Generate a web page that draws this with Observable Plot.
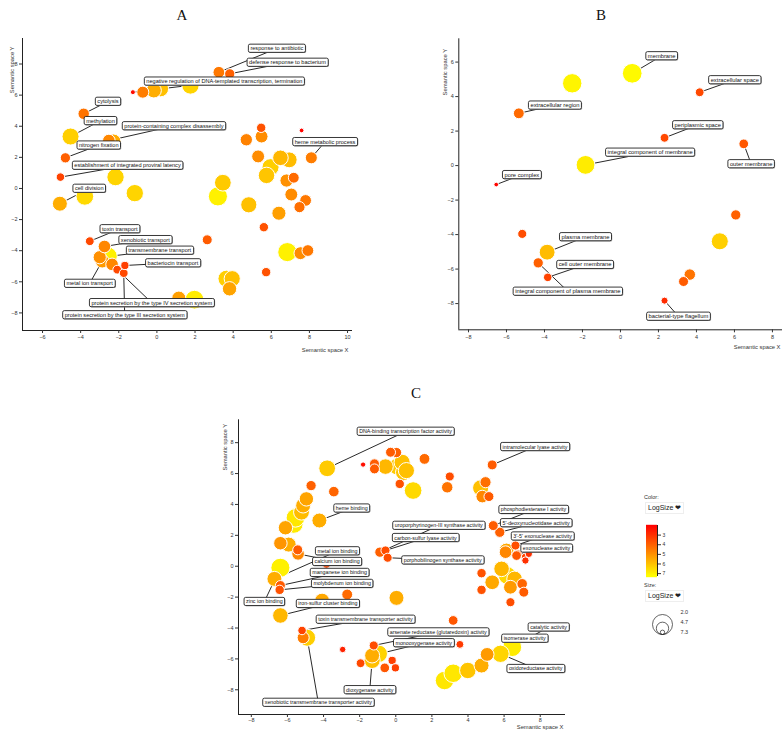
<!DOCTYPE html>
<html><head><meta charset="utf-8">
<script src="https://cdn.jsdelivr.net/npm/d3@7"></script>
<script src="https://cdn.jsdelivr.net/npm/@observablehq/plot@0.6"></script>
<style>
body{margin:0;background:#fff;}
#root{position:relative;width:784px;height:733px;overflow:hidden;font-family:"Liberation Sans",Arial,sans-serif;}
.title{position:absolute;font-family:"Liberation Serif","Times New Roman",serif;font-size:15px;color:#111;transform:translate(-50%,-50%);}
.lgtxt{position:absolute;font-size:5.5px;color:#333;}
.lgsel{position:absolute;font-size:7px;color:#222;background:#fff;border:1px solid #eee;padding:1px 2px;line-height:8px;}
</style></head><body><div id="root"></div>
<script>
// ---------- Panel A (biological process) ----------
const aLabelText = ["response to antibiotic","defense response to bacterium","negative regulation of DNA-templated transcription, termination","cytolysis","methylation","protein-containing complex disassembly","nitrogen fixation","establishment of integrated proviral latency","heme metabolic process","cell division","toxin transport","xenobiotic transport","transmembrane transport","bacteriocin transport","metal ion transport","protein secretion by the type IV secretion system","protein secretion by the type III secretion system"];
const aLabelX = [6.29,6.85,3.54,-2.57,-2.96,0.89,-3.05,-1.54,8.82,-3.55,-1.95,-0.61,0.15,0.84,-3.53,-0.27,-1.69];
const aLabelY = [9.00,8.10,6.89,5.59,4.35,4.02,2.78,1.48,3.00,0.00,-2.60,-3.30,-3.98,-4.79,-6.11,-7.35,-8.13];
const aPointX = [3.25,3.82,-1.26,-3.84,-4.53,-2.52,-4.80,-5.06,8.10,-5.09,-3.52,-2.75,-2.58,-1.68,-2.87,-2.08,-1.74,
  -0.74,-0.16,0.19,1.76,-2.28,-2.17,-3.78,-1.16,-3.00,-2.35,1.15,1.97,7.59,5.47,5.49,4.69,5.31,6.48,6.94,5.96,5.75,6.80,7.18,3.46,3.20,4.82,7.05,7.80,7.48,6.40,5.61,2.64,6.84,7.53,7.92,5.73,3.65,3.95,3.81];
const aPointY = [7.47,7.37,6.19,4.80,3.34,3.08,1.97,0.73,1.97,-0.98,-3.39,-3.73,-4.37,-4.95,-4.67,-5.22,-5.44,
  6.19,6.30,6.41,6.62,3.02,0.73,-0.51,-0.30,-4.42,-4.88,-7.05,-7.15,3.73,3.90,3.34,3.13,2.06,1.97,1.84,1.37,0.84,0.51,0.69,0.37,-0.51,-1.05,-0.39,-0.77,-1.20,-1.59,-2.49,-3.30,-4.09,-4.16,-3.99,-5.38,-5.80,-5.80,-6.45];
const aPointSize = [4.5,4.0,2.2,4.4,6.3,4.8,4.0,3.4,4.6,5.6,3.5,4.8,7.0,3.3,5.2,3.5,3.5,
  4.6,5.6,6.0,6.4,5.6,6.4,6.5,6.4,5.0,4.8,5.3,6.9,2.1,3.7,4.9,4.7,4.9,5.8,5.9,6.3,6.1,5.0,4.2,6.2,7.0,6.0,4.9,4.5,4.3,5.3,3.7,3.9,7.0,4.9,4.5,3.7,6.3,6.0,5.4];
const aXTicks = [-6,-4,-2,0,2,4,6,8,10];
const aYTicks = [-8,-6,-4,-2,0,2,4,6,8];
const aXDomain = [-7.05,10.26];
const aYDomain = [-9.13,9.64];

// ---------- Panel B (cellular component) ----------
const bLabelText = ["membrane","extracellular space","extracellular region","periplasmic space","integral component of membrane","outer membrane","pore complex","plasma membrane","cell outer membrane","integral component of plasma membrane","bacterial-type flagellum"];
const bLabelX = [2.17,6.02,-3.45,4.07,1.56,6.88,-5.19,-1.84,-1.86,-2.77,3.05];
const bLabelY = [6.36,4.97,3.50,2.36,0.77,0.10,-0.53,-4.13,-5.74,-7.29,-8.74];
const bPointX = [0.62,4.17,-5.35,2.32,-1.84,6.49,-6.54,-3.86,-3.83,-4.33,2.32, -2.54,-5.17,3.32,3.65,5.23,6.07];
const bPointY = [5.35,4.25,3.03,1.61,0.04,1.26,-1.10,-5.02,-6.48,-5.64,-7.83, 4.77,-3.96,-6.72,-6.32,-4.39,-2.86];
const bPointSize = [7.2,3.5,4.2,3.5,6.9,3.8,2.1,5.9,3.4,4.0,2.9, 7.1,3.6,3.9,4.4,6.3,4.0];
const bXTicks = [-8,-6,-4,-2,0,2,4,6,8];
const bYTicks = [-8,-6,-4,-2,0,2,4,6];
const bXDomain = [-8.51,8.53];
const bYDomain = [-9.52,7.35];

// ---------- Panel C (molecular function) ----------
const cLabelText = ["DNA-binding transcription factor activity","intramolecular lyase activity","heme binding","uroporphyrinogen-III synthase activity","carbon-sulfur lyase activity","porphobilinogen synthase activity","phosphodiesterase I activity","5'-deoxynucleotidase activity","3'-5' exonuclease activity","exonuclease activity","metal ion binding","calcium ion binding","manganese ion binding","molybdenum ion binding","zinc ion binding","iron-sulfur cluster binding","toxin transmembrane transporter activity","xenobiotic transmembrane transporter activity","arsenate reductase (glutaredoxin) activity","monooxygenase activity","dioxygenase activity","catalytic activity","isomerase activity","oxidoreductase activity"];
const cLabelX = [0.54,7.71,-2.44,2.38,1.65,2.60,7.63,7.77,8.13,8.35,-3.23,-3.25,-3.11,-2.97,-7.28,-3.76,-1.68,-4.29,2.35,1.55,-1.44,8.46,7.14,7.75];
const cLabelY = [8.72,7.73,3.75,2.63,1.84,0.39,3.66,2.80,1.94,1.16,0.98,0.29,-0.42,-1.13,-2.30,-2.43,-3.45,-8.83,-4.27,-4.97,-8.01,-3.95,-4.68,-6.64];
const cPointX = [-3.80,5.34,-4.23,-0.88,-0.57,-0.45,5.40,5.76,6.63,6.73,-6.72,-5.41,-6.39,-6.43,-6.39,-6.39,-5.19,-4.91,-1.22,-1.31,-1.31,6.45,5.06,5.80,
  -4.69,-3.43,-4.95,-5.13,-5.22,-5.56,-5.65,-6.11,-6.39,-5.93,-5.43,-1.81,-1.18,-1.18,-0.29,0.04,-0.57,0.08,0.35,0.44,0.22,0.96,0.59,1.59,2.99,2.85,4.70,4.97,4.79,5.16,6.13,7.19,7.37,-3.84,-4.08,-2.69,0.04,-5.13,-2.94,-1.95,-0.94,-0.61,-0.20,-0.02,3.18,3.55,2.70,3.18,3.99,4.75,4.75,4.75,5.34,5.86,6.35,6.58,7.00,7.09,6.35,6.17,6.08,6.69,7.18];
const cPointY = [6.34,6.56,2.96,0.91,1.02,0.55,2.63,2.20,1.34,0.76,-0.82,0.80,-1.25,-1.53,-0.10,-3.19,-4.16,-4.63,-5.13,-5.78,-6.10,-5.24,-5.71,-5.67,
  5.22,4.83,4.36,3.93,3.50,3.13,2.74,2.49,1.49,1.40,1.06,6.58,6.63,6.30,7.38,7.36,6.45,6.45,6.73,6.08,5.33,4.90,6.19,6.95,5.81,5.11,5.07,5.44,4.51,4.51,1.02,0.58,0.80,0.15,-2.22,-1.83,-2.05,-4.63,-5.39,-6.28,-5.67,-6.58,-6.10,-6.58,-3.51,-5.06,-7.40,-6.93,-6.75,-6.43,-0.45,-1.53,-1.04,-0.17,-1.36,-0.82,-1.14,-1.68,-2.33,-0.60,0.91,0.69,0.37];
const cPointSize = [6.2,3.9,5.6,4.0,3.6,3.6,3.9,4.0,3.6,3.8,5.6,4.8,3.9,3.7,7.0,5.8,3.4,6.3,3.6,5.6,6.0,6.9,5.2,6.4,
  4.0,4.1,5.4,5.6,5.9,6.8,6.9,5.4,5.1,5.6,3.9,2.3,3.9,3.9,3.9,4.0,5.8,6.2,6.0,6.1,3.7,6.5,6.0,4.2,3.6,4.4,6.0,4.3,4.8,3.9,5.5,3.4,3.0,3.5,5.5,4.2,5.6,4.6,2.7,3.5,6.4,3.8,3.3,3.3,3.8,3.2,6.8,6.8,6.1,5.6,3.7,3.7,5.5,5.8,5.2,5.8,4.1,3.9,3.6,6.5,4.8,3.8,3.0];
const cXTicks = [-8,-6,-4,-2,0,2,4,6,8];
const cYTicks = [-8,-6,-4,-2,0,2,4,6,8];
const cXDomain = [-8.71,9.40];
const cYDomain = [-9.60,9.48];

// ---------- Legend ----------
const logSizeDomain = [2.0, 7.3];
const colorBarTicks = [3,4,5,6,7];
const sizeLegendValues = [2.0, 4.7, 7.3];

const colorOpts = {type:"linear", domain: logSizeDomain, range:["#ff0000","#ffff00"], interpolate:"rgb", clamp:true};
const rOpts = {type:"linear", domain: logSizeDomain, range:[2.2,10]};

const root = document.getElementById("root");

function place(el, left, top){ el.style.position="absolute"; el.style.left=left+"px"; el.style.top=top+"px"; root.appendChild(el); return el; }

function boxLabels(svg){
  svg.querySelectorAll("g.lbl text").forEach(t=>{
    const b = t.getBBox();
    const tr = t.getAttribute("transform");
    const mk = (dx,dy,fill,stroke,sw)=>{
      const r = document.createElementNS("http://www.w3.org/2000/svg","rect");
      r.setAttribute("x", b.x-2+dx); r.setAttribute("y", b.y-1.1+dy);
      r.setAttribute("width", b.width+4); r.setAttribute("height", b.height+2.2);
      r.setAttribute("rx", 1.6); r.setAttribute("fill", fill);
      if (stroke) { r.setAttribute("stroke", stroke); r.setAttribute("stroke-width", sw); }
      if (tr) r.setAttribute("transform", tr);
      t.parentNode.insertBefore(r, t);
    };
    mk(0.7,0.7,"#999",null,0);
    mk(0,0,"#fff","#222",0.9);
  });
}

function panel(o){
  const pts = o.xs.map((x,i)=>({x, y:o.ys[i], s:o.sizes[i]}));
  const lbl = o.labels.map((t,i)=>({t, x:o.lxs[i], y:o.lys[i], px:o.xs[i], py:o.ys[i]}));
  const svg = Plot.plot({
    width:o.width, height:o.height,
    marginLeft:o.ml, marginRight:o.mr, marginTop:o.mt, marginBottom:o.mb,
    x:{domain:o.xDomain}, y:{domain:o.yDomain},
    r:rOpts, color:colorOpts,
    style:{fontFamily:"'Liberation Sans', Arial, sans-serif", fontSize:"5.5px", color:"#333", background:"transparent", overflow:"visible"},
    marks:[
      Plot.ruleX([o.xDomain[0]], {stroke:"#222", strokeWidth:1}),
      Plot.ruleY([o.yDomain[0]], {stroke:"#222", strokeWidth:1}),
      Plot.axisX({ticks:o.xTicks, tickSize:3, tickPadding:o.xPad, label:null, fontSize:5.5}),
      Plot.axisY({ticks:o.yTicks, tickSize:3, tickPadding:2, label:null, fontSize:5.5}),
      Plot.text(["Semantic space X"], {text:d=>d, frameAnchor:"bottom-right", textAnchor:"end", dy:o.xlabDy, dx:o.xlabDx, fontSize:5.8, fill:"#333"}),
      Plot.text(["Semantic space Y"], {text:d=>d, frameAnchor:"top-left", rotate:-90, textAnchor:"end", dx:o.ylabDx, dy:o.ylabDy, fontSize:5.8, fill:"#333"}),
      Plot.link(lbl, {x1:"px", y1:"py", x2:"x", y2:"y", stroke:"#111", strokeWidth:0.9}),
      Plot.dot(pts, {x:"x", y:"y", r:"s", fill:"s", stroke:"#fff", strokeWidth:1}),
      Plot.text(lbl, {x:"x", y:"y", text:"t", fontSize:o.labelFont, fill:"#111", className:"lbl"})
    ]
  });
  place(svg, o.left, o.top);
  boxLabels(svg);
  return svg;
}

panel({xs:aPointX, ys:aPointY, sizes:aPointSize, labels:aLabelText, lxs:aLabelX, lys:aLabelY,
  xDomain:aXDomain, yDomain:aYDomain, xTicks:aXTicks, yTicks:aYTicks,
  left:0, top:0, width:370, height:360, ml:22, mr:18, mt:38, mb:30, xPad:2,
  xlabDx:-4, xlabDy:21, ylabDx:-13, ylabDy:8, labelFont:5.6});

panel({xs:bPointX, ys:bPointY, sizes:bPointSize, labels:bLabelText, lxs:bLabelX, lys:bLabelY,
  xDomain:bXDomain, yDomain:bYDomain, xTicks:bXTicks, yTicks:bYTicks,
  left:400, top:0, width:384, height:360, ml:58.3, mr:2, mt:38.3, mb:30.7, xPad:2,
  xlabDx:-2, xlabDy:19, ylabDx:-16, ylabDy:10, labelFont:5.8});

panel({xs:cPointX, ys:cPointY, sizes:cPointSize, labels:cLabelText, lxs:cLabelX, lys:cLabelY,
  xDomain:cXDomain, yDomain:cYDomain, xTicks:cXTicks, yTicks:cYTicks,
  left:200, top:380, width:400, height:353, ml:38, mr:35, mt:39.3, mb:19, xPad:0.5,
  xlabDx:-2, xlabDy:14.5, ylabDx:-16, ylabDy:4, labelFont:5.3});

// Titles
[["A",182,15],["B",601,15],["C",416,393]].forEach(([t,x,y])=>{
  const d=document.createElement("div"); d.className="title"; d.textContent=t; d.style.left=x+"px"; d.style.top=y+"px"; root.appendChild(d);
});

// Legend texts
function txt(cls, s, x, y){ const d=document.createElement("div"); d.className=cls; d.textContent=s; d.style.left=x+"px"; d.style.top=y+"px"; root.appendChild(d); }
txt("lgtxt","Color:",644,494);
txt("lgsel","LogSize \u2764",645,502);
txt("lgtxt","Size:",644,582);
txt("lgsel","LogSize \u2764",645,590);

// Color bar
const barVals = d3.range(logSizeDomain[0], logSizeDomain[1]+0.001, 0.05);
const bar = Plot.plot({
  width:40, height:62, marginLeft:0, marginRight:29, marginTop:5, marginBottom:6,
  x:{domain:[0,1], axis:null},
  y:{domain:logSizeDomain, reverse:true},
  color:colorOpts,
  style:{fontFamily:"'Liberation Sans', Arial, sans-serif", fontSize:"5px", color:"#333", background:"transparent", overflow:"visible"},
  marks:[
    Plot.ruleY(barVals, {y:d=>d, stroke:d=>d, strokeWidth:1.4, x1:0, x2:1}),
    Plot.ruleX([1], {stroke:"#222"}),
    Plot.axisY({anchor:"right", ticks:colorBarTicks, tickFormat:"d", tickSize:3, tickPadding:2, label:null, fontSize:5})
  ]
});
place(bar, 646, 520);

// Size legend
const sizeLeg = Plot.plot({
  width:60, height:40, marginLeft:0, marginRight:0, marginTop:0, marginBottom:0,
  x:{domain:[0,60], axis:null}, y:{domain:[40,0], axis:null},
  r:rOpts,
  style:{fontFamily:"'Liberation Sans', Arial, sans-serif", fontSize:"5.5px", color:"#333", background:"transparent", overflow:"visible"},
  marks:[
    Plot.dot(sizeLegendValues, {x:22, y:(d)=>31 - rOpts.range[0] - (d-2)*(rOpts.range[1]-rOpts.range[0])/(logSizeDomain[1]-logSizeDomain[0]), r:d=>d, stroke:"#222", fill:"none", strokeWidth:0.7}),
    Plot.text(sizeLegendValues, {x:40, y:(d,i)=>[9,19,29][i], text:d=>d.toFixed(1), textAnchor:"start", fontSize:5.5, fill:"#333"})
  ]
});
place(sizeLeg, 640, 603);
</script></body></html>
